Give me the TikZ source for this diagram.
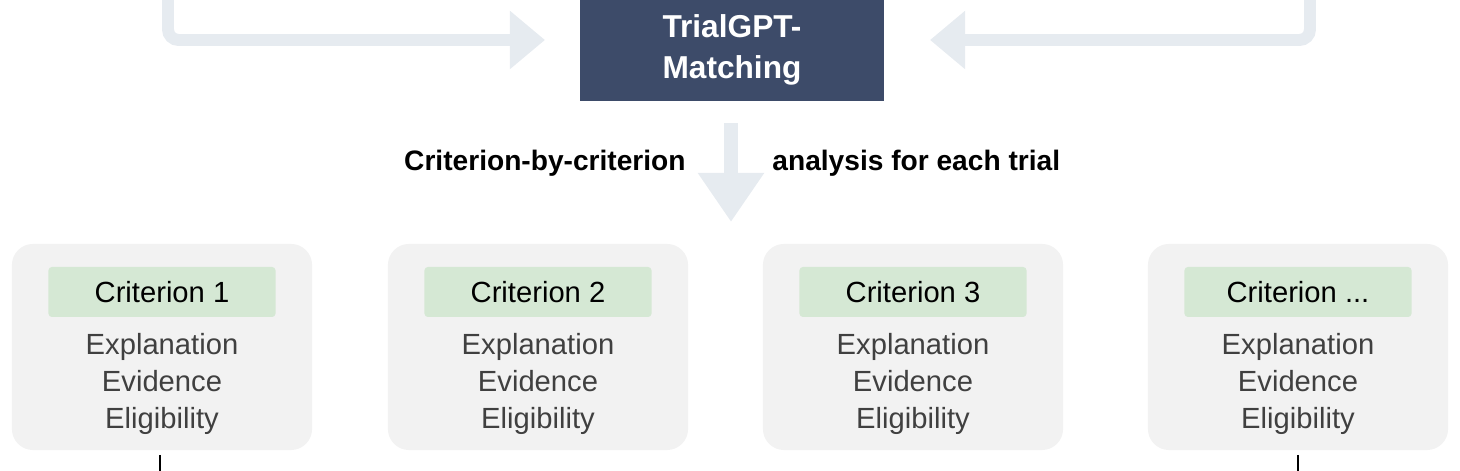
\documentclass[tikz,border=0pt]{standalone}
\usepackage{fontspec}
\setmainfont{Liberation Sans}
\usetikzlibrary{arrows.meta}
\definecolor{navy}{HTML}{3D4B69}
\definecolor{flow}{HTML}{E6EBF0}
\definecolor{card}{HTML}{F2F2F2}
\definecolor{tag}{HTML}{D5E8D4}
\definecolor{body}{HTML}{404040}
\newcommand{\moredots}{...}
\begin{document}
\begin{tikzpicture}[x=0.01cm,y=-0.01cm,
    flowline/.style={flow, line width=3.4pt, -{Triangle[length=10pt,width=16pt]}},
    card/.style={fill=card, rounded corners=6pt, minimum width=3cm, minimum height=2.06cm},
    tag/.style={fill=tag, rounded corners=1pt, minimum width=2.27cm, minimum height=0.5cm, font=\fontsize{8.3}{10}\selectfont},
    lines/.style={text=body, align=center, font=\fontsize{8.3}{10.5}\selectfont},
    note/.style={font=\bfseries\fontsize{8}{10}\selectfont}]
\useasboundingbox (0,0) rectangle (1460,471);
% matching step
\node[fill=navy, text=white, align=center, minimum width=3.04cm, minimum height=1.01cm,
      font=\bfseries\fontsize{9}{11.5}\selectfont] (match) at (732,50) {TrialGPT-\\Matching};
\coordinate (inL) at (168,-5);
\coordinate (inR) at (1310,-5);
\draw[flowline, rounded corners=3pt] (inL) |- (545,40);
\draw[flowline, rounded corners=3pt] (inR) |- (930,40);
\coordinate (down) at (731,222);
\draw[flow, line width=4pt, -{Triangle[length=14pt,width=18pt]}] (731,123) -- (down);
\node[note, anchor=east] (lnote) at (698,163) {Criterion-by-criterion};
\node[note, anchor=west] (rnote) at (760,163) {analysis for each trial};
% criteria
\foreach \x/\n/\lab in {162/1/1, 538/2/2, 913/3/3, 1298/4/\moredots}{
  \node[card] (c\n) at (\x,347) {};
  \node[tag] (t\n) at (\x,292) {Criterion \lab};
  \node[lines] (l\n) at (\x,384) {Explanation\\Evidence\\Eligibility};
}
\draw[line width=0.6pt] (160,455) -- (160,475);
\draw[line width=0.6pt] (1298,455) -- (1298,475);
\end{tikzpicture}
\end{document}
